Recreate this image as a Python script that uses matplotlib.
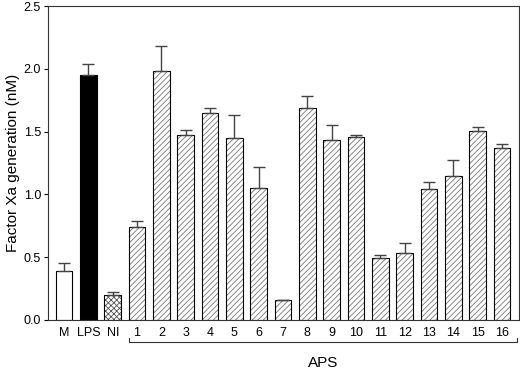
import numpy as np
import matplotlib.pyplot as plt
import matplotlib.transforms as mtransforms

plt.rcParams['font.family'] = ['Liberation Sans', 'DejaVu Sans']
plt.rcParams['hatch.linewidth'] = 0.6

# Datos
labels = ['M', 'LPS', 'NI'] + [str(i) for i in range(1, 17)]
valores = [0.39, 1.95, 0.20,
           0.74, 1.98, 1.47, 1.65, 1.45, 1.05, 0.16, 1.69,
           1.435, 1.455, 0.49, 0.535, 1.04, 1.146, 1.505, 1.37]
errores = [0.06, 0.09, 0.02,
           0.05, 0.20, 0.04, 0.04, 0.18, 0.17, 0.0, 0.09,
           0.115, 0.015, 0.025, 0.075, 0.06, 0.124, 0.035, 0.03]

x = np.arange(len(labels))
ancho = 0.68

fig = plt.figure(figsize=(5.2, 3.69), dpi=100)
ax = fig.add_axes([0.0923, 0.1328, 0.9057, 0.8509])

# barras de control
ax.bar(x[0], valores[0], ancho, color='white', edgecolor='black', linewidth=0.8)
ax.bar(x[1], valores[1], ancho, color='black', edgecolor='black', linewidth=0.8)
ax.bar(x[2], valores[2], ancho, color='white', edgecolor='#555555', hatch='xxxxxx', linewidth=0)
ax.bar(x[2], valores[2], ancho, fill=False, edgecolor='black', linewidth=0.8)

# barras APS con rayado
ax.bar(x[3:], valores[3:], ancho, color='white', edgecolor='#777777', hatch='//////', linewidth=0)
ax.bar(x[3:], valores[3:], ancho, fill=False, edgecolor='black', linewidth=0.8)

# barras de error (solo hacia arriba)
ax.errorbar(x, valores, yerr=[np.zeros(len(errores)), errores], fmt='none',
            ecolor='#444444', elinewidth=1, capsize=4, capthick=1)

ax.set_xlim(-0.66, 18.7)
ax.set_ylim(0, 2.5)
ax.set_yticks([0.0, 0.5, 1.0, 1.5, 2.0, 2.5])
ax.set_yticklabels(['0.0', '0.5', '1.0', '1.5', '2.0', '2.5'], fontsize=9)
ax.set_xticks(x)
ax.set_xticklabels(labels, fontsize=9)
ax.tick_params(axis='x', length=0, pad=5)
ax.tick_params(axis='y', length=3, width=0.8, pad=2)
for s in ax.spines.values():
    s.set_linewidth(0.8)
    s.set_color('#333333')

ax.set_ylabel('Factor Xa generation (nM)', fontsize=11, labelpad=3)

# corchete bajo las muestras APS
trans = mtransforms.blended_transform_factory(ax.transData, ax.transAxes)
x0, x1 = x[3] - 0.35, x[-1] + 0.62
ax.plot([x0, x0, x1, x1], [-0.058, -0.069, -0.069, -0.058], color='#333333',
        linewidth=0.8, transform=trans, clip_on=False)
ax.text((x0 + x1) / 2, -0.136, 'APS', transform=trans, ha='center', va='center', fontsize=11)

fig.savefig('out.png', dpi=100)
